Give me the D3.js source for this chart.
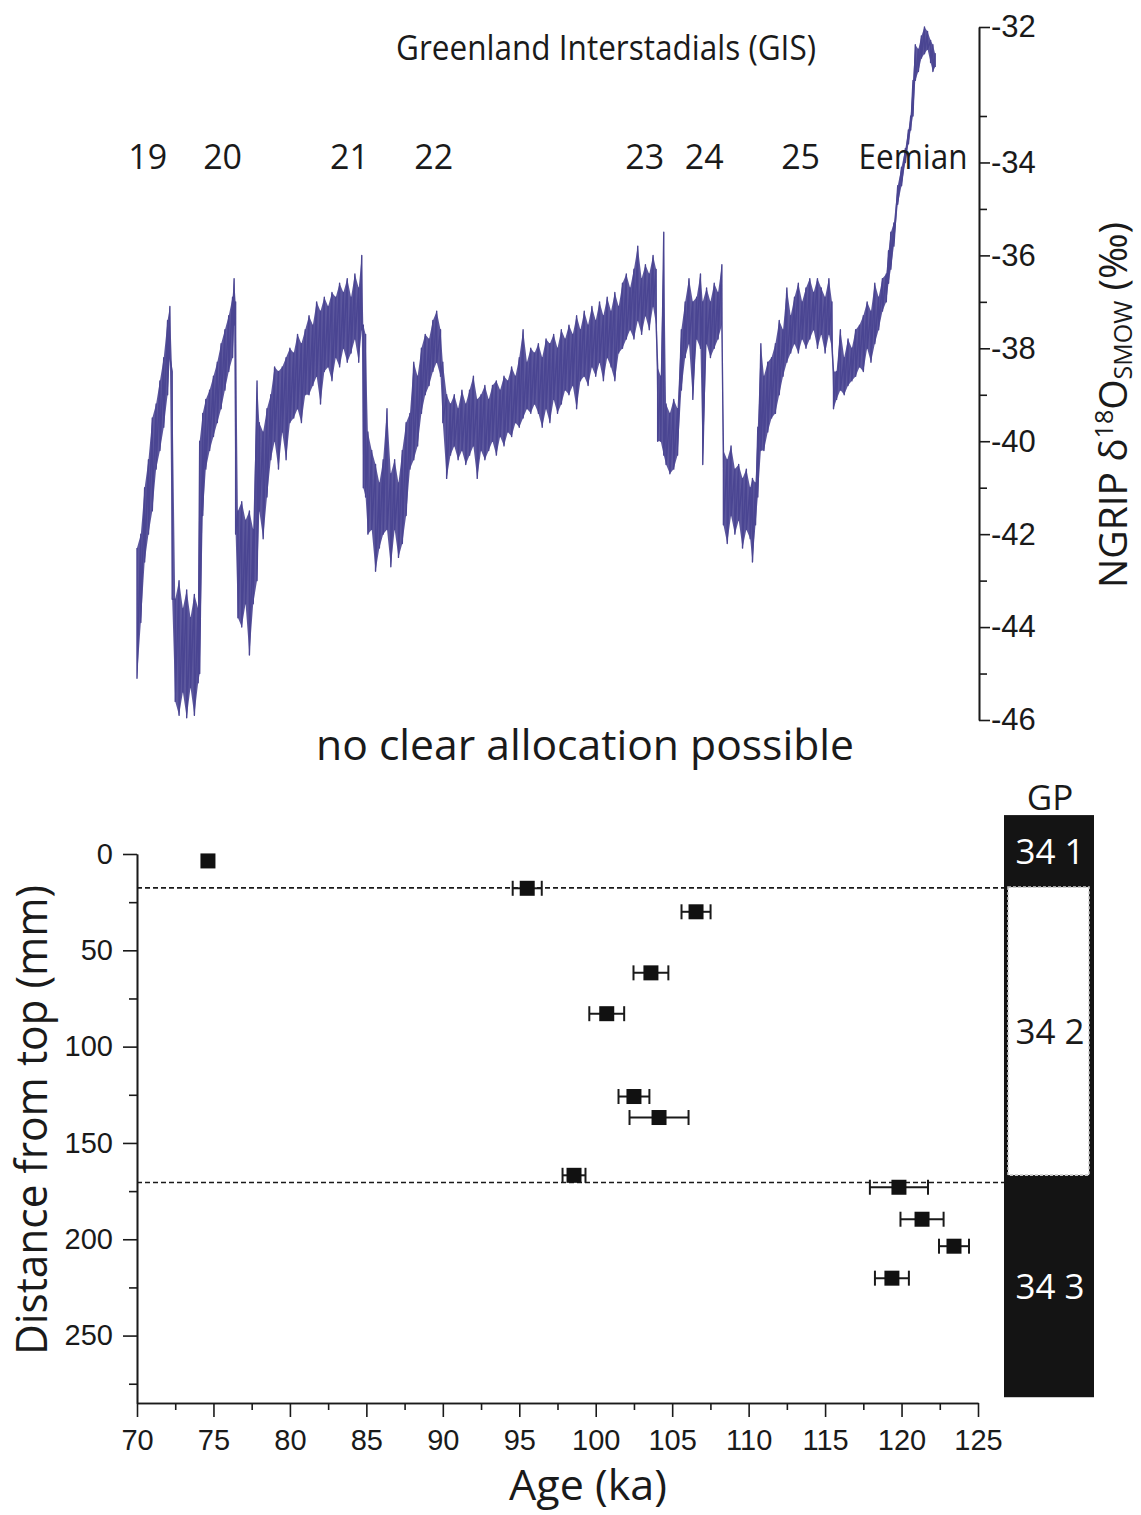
<!DOCTYPE html>
<html><head><meta charset="utf-8">
<script src="https://cdn.jsdelivr.net/npm/d3@7"></script>
<style>body{margin:0;background:#fff}svg{display:block}</style>
</head><body>
<svg id="c" width="1141" height="1515"></svg>
<script>
// ---------- DATA ----------
const gisLabels = ["19","20","21","22","23","24","25","Eemian"];
const gisAges   = [70.7, 75.6, 83.9, 89.4, 103.2, 107.1, 113.4, 120.75];

// NGRIP d18O trace: per age, upper and lower envelope of the noisy record
const ngripAge = [70.0,70.25,70.5,70.75,71.0,71.25,71.5,71.75,72.0,72.15,72.3,72.5,72.75,73.0,73.25,73.5,73.75,74.0,74.1,74.3,
74.5,74.75,75.0,75.25,75.5,75.75,76.0,76.25,76.35,76.45,76.6,76.85,77.1,77.35,77.6,77.85,78.0,78.25,78.5,78.75,
79.0,79.25,79.5,79.75,80.0,80.25,80.5,80.75,81.0,81.25,81.5,81.75,82.0,82.25,82.5,82.75,83.0,83.25,83.5,83.75,
84.0,84.25,84.5,84.7,84.8,84.95,85.1,85.35,85.6,85.85,86.1,86.35,86.6,86.85,87.1,87.35,87.6,87.85,88.1,88.35,
88.6,88.85,89.1,89.35,89.6,89.85,90.0,90.25,90.5,90.75,91.0,91.25,91.5,91.75,92.0,92.25,92.5,92.75,93.0,93.25,
93.5,93.75,94.0,94.25,94.5,94.75,95.0,95.25,95.5,95.75,96.0,96.25,96.5,96.75,97.0,97.25,97.5,97.75,98.0,98.25,
98.5,98.75,99.0,99.25,99.5,99.75,100.0,100.25,100.5,100.75,101.0,101.25,101.5,101.75,102.0,102.25,102.5,102.75,103.0,103.25,
103.5,103.75,103.95,104.05,104.25,104.45,104.6,104.85,105.1,105.35,105.6,105.85,106.1,106.35,106.6,106.85,107.0,107.25,107.5,107.75,
108.0,108.25,108.35,108.6,108.85,109.1,109.35,109.6,109.85,110.1,110.25,110.45,110.6,110.8,111.0,111.25,111.5,111.75,112.0,112.25,
112.5,112.75,113.0,113.25,113.5,113.75,114.0,114.25,114.5,114.75,115.0,115.25,115.45,115.55,115.75,116.0,116.25,116.5,116.75,117.0,
117.25,117.5,117.75,118.0,118.25,118.5,118.75,119.0,119.15,119.3,119.5,119.75,120.0,120.25,120.45,120.6,120.75,120.9,121.1,121.3,
121.5,121.7,121.9,122.05,122.2];
const ngripHigh = [-42.3,-42.0,-41.0,-40.4,-39.5,-39.2,-38.7,-38.2,-37.4,-37.1,-38.5,-43.4,-43.0,-43.6,-43.2,-43.8,-43.3,-43.6,-40.0,-39.4,
-39.1,-38.9,-38.6,-38.3,-37.9,-37.6,-37.3,-36.9,-36.5,-37.0,-41.5,-41.3,-41.7,-41.5,-41.9,-38.7,-39.6,-39.8,-39.3,-39.0,
-38.4,-38.5,-38.4,-38.2,-38.0,-38.1,-37.7,-37.9,-37.6,-37.3,-37.5,-37.0,-37.2,-36.9,-37.1,-36.8,-36.9,-36.6,-36.8,-36.5,
-36.9,-36.4,-36.7,-36.0,-37.5,-37.7,-39.8,-40.2,-40.5,-40.9,-40.4,-39.3,-40.7,-40.4,-40.9,-40.2,-39.6,-39.4,-38.3,-38.6,
-38.0,-37.7,-37.8,-37.4,-37.2,-37.6,-38.3,-39.0,-39.2,-39.0,-39.3,-38.9,-39.2,-38.9,-38.6,-39.1,-39.0,-38.8,-39.1,-38.8,
-38.7,-38.9,-38.6,-38.7,-38.4,-38.6,-38.2,-37.6,-38.3,-38.0,-38.1,-37.9,-38.2,-37.8,-37.9,-37.7,-38.0,-37.6,-37.8,-37.5,
-37.7,-37.3,-37.6,-37.2,-37.5,-37.1,-37.4,-37.0,-37.3,-36.9,-37.2,-36.8,-37.1,-36.6,-36.4,-36.7,-36.3,-35.8,-36.5,-36.2,
-36.4,-36.0,-36.3,-38.4,-38.6,-35.5,-39.2,-39.4,-39.1,-39.3,-37.6,-37.0,-36.5,-37.0,-36.9,-36.4,-37.0,-36.7,-37.0,-36.6,
-36.8,-36.2,-40.2,-40.4,-40.1,-40.6,-40.5,-40.8,-40.6,-41.0,-40.8,-40.9,-39.7,-37.9,-38.6,-38.3,-38.2,-37.9,-37.4,-37.6,
-36.7,-37.3,-36.9,-36.6,-37.0,-36.7,-36.5,-36.8,-36.5,-36.7,-36.9,-36.5,-37.0,-38.5,-38.5,-37.6,-38.2,-37.8,-38.0,-37.6,
-37.5,-37.3,-37.0,-37.2,-36.6,-36.9,-36.5,-36.4,-35.9,-35.5,-35.3,-34.5,-34.1,-33.7,-33.3,-33.0,-32.6,-32.2,-32.25,-32.1,
-32.0,-32.05,-32.15,-32.2,-32.3];
const ngripLow = [-45.1,-43.9,-42.6,-42.0,-41.5,-40.6,-40.2,-39.7,-39.0,-38.2,-43.4,-45.6,-45.9,-45.4,-45.95,-45.3,-45.9,-45.2,-45.0,-41.6,
-40.6,-40.2,-39.9,-39.6,-39.3,-38.9,-38.5,-38.2,-37.5,-42.0,-43.8,-44.0,-43.5,-44.6,-43.5,-43.0,-41.5,-42.1,-41.2,-40.4,
-40.0,-40.6,-39.8,-40.4,-39.6,-39.5,-39.3,-39.6,-39.0,-39.0,-38.8,-38.6,-39.2,-38.5,-38.4,-38.7,-38.2,-38.4,-38.0,-38.3,
-38.1,-37.8,-38.3,-37.6,-41.0,-41.2,-42.0,-41.9,-42.8,-42.3,-42.0,-41.9,-42.7,-41.9,-42.5,-42.2,-41.6,-40.6,-40.4,-40.1,
-39.4,-39.0,-38.8,-38.5,-38.3,-38.6,-39.6,-40.8,-40.3,-40.1,-40.4,-40.2,-40.5,-40.3,-40.1,-40.8,-40.2,-40.4,-40.2,-40.0,
-40.3,-39.9,-40.1,-39.8,-39.9,-39.6,-39.7,-39.5,-39.3,-39.4,-39.2,-39.4,-39.7,-39.3,-39.6,-39.1,-39.4,-39.2,-38.9,-39.0,
-38.8,-39.3,-38.7,-38.6,-38.8,-38.4,-38.6,-38.3,-38.7,-38.2,-38.4,-38.7,-38.1,-38.0,-37.8,-37.6,-37.8,-37.4,-37.7,-37.3,
-37.6,-37.1,-37.5,-40.0,-40.0,-40.3,-40.5,-40.7,-40.6,-40.3,-38.9,-38.2,-37.9,-39.1,-37.8,-38.0,-40.5,-37.9,-38.2,-38.0,
-37.8,-37.5,-41.8,-42.2,-41.6,-42.0,-41.7,-42.3,-41.9,-42.1,-42.6,-41.8,-41.2,-40.2,-40.2,-39.8,-39.5,-39.4,-39.0,-38.6,
-38.3,-38.1,-37.9,-38.1,-37.8,-38.0,-37.8,-37.6,-38.0,-37.7,-38.1,-37.7,-38.0,-39.3,-39.1,-38.9,-39.0,-38.8,-38.7,-38.6,
-38.4,-38.5,-38.0,-38.3,-37.9,-37.6,-37.2,-37.0,-36.6,-36.3,-35.8,-34.9,-34.5,-34.0,-33.6,-33.3,-33.0,-32.6,-32.5,-32.35,
-32.3,-32.25,-32.4,-32.5,-32.45];

// U-Th samples: age (ka), 2-sigma error (ka), distance from top (mm)
const sampleAge    = [74.64, 95.52, 106.56, 103.61, 100.72, 102.5, 104.14, 98.58, 119.83, 121.34, 123.43, 119.37];
const sampleAgeErr = [0, 0.95, 0.95, 1.14, 1.14, 1.01, 1.93, 0.75, 1.9, 1.41, 0.98, 1.11];
const sampleDepth  = [3.6, 17.8, 30.0, 61.7, 82.9, 125.9, 136.8, 166.8, 173.0, 189.6, 203.6, 220.2];

const boundaryDepth = [17.6, 170.5];

// growth phases (GP) column
const gpLabels = ["34 1", "34 2", "34 3"];
const gpBounds = [-20.2, 17.2, 166.7, 282];

const xTicks = [70,75,80,85,90,95,100,105,110,115,120,125];
const depthTicks = [0,50,100,150,200,250];
const d18OTicks = [-46,-44,-42,-40,-38,-36,-34,-32];

// ---------- DRAW ----------
const svg = d3.select("#c");
const tickFont = "'Liberation Sans', Arial, sans-serif";
const textFont = "'Open Sans', 'Noto Sans', sans-serif";
const ink = "#1a1a1a";
const purple = "#4a4592";

const x  = d3.scaleLinear().domain([70,125]).range([137,978]);
const yD = d3.scaleLinear().domain([0,285]).range([854,1403]);
const yO = d3.scaleLinear().domain([-46,-33,-32]).range([720,116,27]);

// NGRIP record: envelope band + zigzag trace
const idx = d3.range(ngripAge.length);
svg.append("path")
  .attr("d", d3.area().x(i => x(ngripAge[i])).y0(i => yO(ngripLow[i])).y1(i => yO(ngripHigh[i]))(idx))
  .attr("fill", purple).attr("fill-opacity", 0.9);
const pts = [];
ngripAge.forEach((a,i) => { pts.push([a, ngripHigh[i]]); pts.push([a, ngripLow[i]]); });
svg.append("path")
  .attr("d", d3.line().x(d => x(d[0])).y(d => yO(d[1]))(pts))
  .attr("fill","none").attr("stroke",purple).attr("stroke-width",1.4)
  .attr("stroke-linejoin","round");

// axes
function styleAxis(g, fs){
  g.selectAll("path,line").attr("stroke",ink).attr("stroke-width",1.6);
  g.selectAll("text").attr("font-family",tickFont).attr("font-size",fs || 28).attr("fill",ink);
}
const minorO = d3.range(-45,-32,2);
svg.append("g").attr("transform","translate(979,0)")
  .call(d3.axisRight(yO).tickValues(minorO).tickSize(8).tickSizeOuter(0).tickFormat(""))
  .call(styleAxis);
svg.append("g").attr("transform","translate(979,0)")
  .call(d3.axisRight(yO).tickValues(d18OTicks).tickSize(11).tickSizeOuter(0).tickPadding(1).tickFormat(d => String(d)))
  .call(g => styleAxis(g, 31));

svg.append("g").attr("transform","translate(0,1403)")
  .call(d3.axisBottom(x).tickValues(d3.range(72.5,125,5)).tickSize(7).tickSizeOuter(0).tickFormat(""))
  .call(styleAxis);
svg.append("g").attr("transform","translate(0,1403)")
  .call(d3.axisBottom(x).tickValues(xTicks).tickSize(14).tickSizeOuter(0).tickPadding(12).tickFormat(d => String(d)))
  .call(g => styleAxis(g, 29));
svg.append("g").attr("transform","translate(137,0)")
  .call(d3.axisLeft(yD).tickValues([25,75,125,175,225,275]).tickSize(8).tickSizeOuter(0).tickFormat(""))
  .call(styleAxis);
svg.append("g").attr("transform","translate(137,0)")
  .call(d3.axisLeft(yD).tickValues(depthTicks).tickSize(14).tickSizeOuter(0).tickPadding(10).tickFormat(d => String(d)))
  .call(g => styleAxis(g, 29));

// GP column
const gpX0 = 1004, gpX1 = 1094;
svg.append("rect").attr("x",gpX0).attr("width",gpX1-gpX0)
  .attr("y",yD(gpBounds[0])).attr("height",yD(gpBounds[3])-yD(gpBounds[0])).attr("fill","#141414");
svg.append("rect").attr("x",gpX0+4).attr("width",gpX1-gpX0-9)
  .attr("y",yD(gpBounds[1])).attr("height",yD(gpBounds[2])-yD(gpBounds[1]))
  .attr("fill","#fff").attr("stroke","#c8c8c8").attr("stroke-width",1.6).attr("stroke-dasharray","3,2");
gpLabels.forEach((l,i) => {
  svg.append("text").attr("x",1050).attr("y",(yD(gpBounds[i])+yD(gpBounds[i+1]))/2 + 13)
    .attr("text-anchor","middle").attr("font-family",textFont).attr("font-size",35)
    .attr("fill", i===1 ? ink : "#fff").text(l);
});
svg.append("text").attr("x",1050).attr("y",810).attr("text-anchor","middle")
  .attr("font-family",textFont).attr("font-size",35).attr("fill",ink).text("GP");

// boundary dashed lines
svg.selectAll("line.bd").data(boundaryDepth).join("line").attr("class","bd")
  .attr("x1",137).attr("x2",gpX0).attr("y1",d => yD(d)).attr("y2",d => yD(d))
  .attr("stroke",ink).attr("stroke-width",1.6).attr("stroke-dasharray","5,3");

// samples with error bars
const cap = 7.5, sq = 15;
sampleAge.forEach((a,i) => {
  const yy = yD(sampleDepth[i]), e = sampleAgeErr[i];
  if (e > 0) {
    const g = svg.append("g").attr("stroke",ink).attr("stroke-width",2);
    g.append("line").attr("x1",x(a-e)).attr("x2",x(a+e)).attr("y1",yy).attr("y2",yy);
    g.append("line").attr("x1",x(a-e)).attr("x2",x(a-e)).attr("y1",yy-cap).attr("y2",yy+cap);
    g.append("line").attr("x1",x(a+e)).attr("x2",x(a+e)).attr("y1",yy-cap).attr("y2",yy+cap);
  }
  svg.append("rect").attr("x",x(a)-sq/2).attr("y",yy-sq/2).attr("width",sq).attr("height",sq).attr("fill","#111");
});

// texts
function txt(s, xx, yy, size, len){
  const t = svg.append("text").attr("x",xx).attr("y",yy).attr("text-anchor","middle")
    .attr("font-family",textFont).attr("font-size",size).attr("fill",ink).text(s);
  if (len) t.attr("textLength",len).attr("lengthAdjust","spacingAndGlyphs");
  return t;
}
txt("Greenland Interstadials (GIS)", 606, 60, 34, 420);
gisLabels.forEach((l,i) => {
  txt(l, x(gisAges[i]), 169, 34, l === "Eemian" ? 109 : null);
});
txt("no clear allocation possible", 585, 760, 42, 538);
txt("Age (ka)", 588, 1500, 42, 158);

svg.append("text").attr("transform","translate(47,1120) rotate(-90)").attr("text-anchor","middle")
  .attr("font-family",textFont).attr("font-size",44).attr("fill",ink)
  .attr("textLength",470).attr("lengthAdjust","spacingAndGlyphs").text("Distance from top (mm)");

const rt = svg.append("text").attr("transform","translate(1127,405) rotate(-90)").attr("text-anchor","middle")
  .attr("font-family",textFont).attr("font-size",39).attr("fill",ink);
rt.append("tspan").text("NGRIP δ");
rt.append("tspan").attr("dy",-14).attr("font-size",25).text("18");
rt.append("tspan").attr("dy",14).text("O");
rt.append("tspan").attr("dy",5).attr("font-size",25).text("SMOW");
rt.append("tspan").attr("dy",-5).text(" (‰)");
</script>
</body></html>
